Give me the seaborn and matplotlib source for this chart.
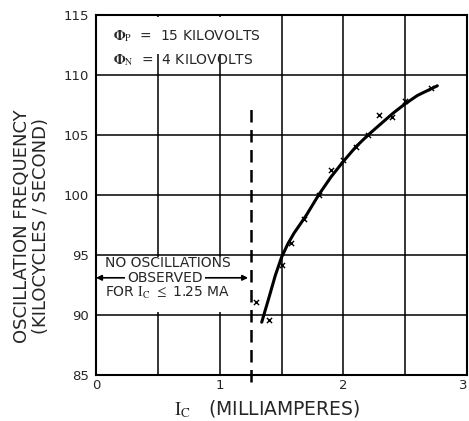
import matplotlib
matplotlib.use("Agg")
import matplotlib.pyplot as plt
import seaborn as sns
import pandas as pd

# Measured oscillation frequency versus collector current
ic_points = [1.29, 1.40, 1.50, 1.58, 1.68, 1.80, 1.90, 2.00, 2.10, 2.20, 2.29, 2.39, 2.50, 2.71]
freq_points = [91.1, 89.6, 94.2, 96.0, 98.0, 100.0, 102.1, 102.9, 104.0, 105.0, 106.7, 106.5, 107.8, 108.9]

# Hand-faired curve through the measurements
ic_curve = [1.34, 1.40, 1.45, 1.50, 1.55, 1.60, 1.70, 1.80, 1.90, 2.00, 2.10, 2.20,
            2.30, 2.40, 2.50, 2.60, 2.70, 2.76]
freq_curve = [89.4, 91.5, 93.3, 94.8, 95.9, 96.8, 98.3, 100.0, 101.5, 102.8, 104.0, 105.0,
              105.9, 106.8, 107.6, 108.3, 108.8, 109.1]

threshold_ma = 1.25
x_ticks = [0, 1, 2, 3]
y_ticks = [85, 90, 95, 100, 105, 110, 115]

sns.set_style("white")
plt.rcParams["font.family"] = ["DejaVu Sans"]
plt.rcParams["mathtext.fontset"] = "stix"

fig = plt.figure(figsize=(4.69, 4.21), dpi=100)
ax = fig.add_axes([96 / 469, 46 / 421, 371 / 469, 360 / 421])

# grid every 0.5 mA and 5 kc/s
for gx in [0.5, 1.0, 1.5, 2.0, 2.5]:
    ax.axvline(gx, color="black", lw=1.1, zorder=1)
for gy in [90, 95, 100, 105, 110]:
    ax.axhline(gy, color="black", lw=1.1, zorder=1)

# blank panels behind the annotations
ax.fill_between([0.01, 1.24], 90.25, 94.85, color="white", zorder=2, lw=0)
ax.fill_between([0.01, 1.2], 111.75, 114.8, color="white", zorder=2, lw=0)

curve_df = pd.DataFrame({"ic": ic_curve, "freq": freq_curve})
pts_df = pd.DataFrame({"ic": ic_points, "freq": freq_points})
sns.lineplot(data=curve_df, x="ic", y="freq", ax=ax, color="black", lw=2.2,
             sort=True, estimator=None, zorder=4)
sns.scatterplot(data=pts_df, x="ic", y="freq", ax=ax, marker="x", color="black",
                s=14, linewidth=1.0, zorder=5)

# threshold line
ax.plot([threshold_ma, threshold_ma], [84.4, 107.7], color="black", lw=1.8,
        dashes=(5, 3), zorder=3, clip_on=False)

ax.set_xlim(0, 3)
ax.set_ylim(85, 115)
ax.set_xticks(x_ticks)
ax.set_yticks(y_ticks)
ax.set_xticklabels([str(t) for t in x_ticks])
ax.set_yticklabels([str(t) for t in y_ticks])
ax.get_xticklabels()[-1].set_horizontalalignment("right")
ax.tick_params(axis="y", direction="out", length=4, width=1.2, labelsize=9.5, pad=1)
ax.tick_params(axis="x", direction="out", length=0, labelsize=9.5, pad=3)
ax.set_xlabel("")
ax.set_ylabel("")
for sp in ax.spines.values():
    sp.set_visible(True)
    sp.set_color("black")
    sp.set_linewidth(1.5)

# parameter block
ax.text(0.14, 113.2, r"$\mathbf{\Phi}_{\mathrm{P}}$  =  15 KILOVOLTS", fontsize=10,
        ha="left", va="center", zorder=6)
ax.text(0.14, 111.2, r"$\mathbf{\Phi}_{\mathrm{N}}$  =  4 KILOVOLTS", fontsize=10,
        ha="left", va="center", zorder=6)

# no-oscillation region note
ax.text(0.07, 94.3, "NO OSCILLATIONS", fontsize=10, ha="left", va="center", zorder=6)
ax.annotate("", xy=(0.0, 93.1), xytext=(1.23, 93.1),
            arrowprops=dict(arrowstyle="<|-|>", color="black", lw=1.2,
                            mutation_scale=8, shrinkA=0, shrinkB=0), zorder=5)
ax.text(0.555, 93.1, "OBSERVED", fontsize=10, ha="center", va="center", zorder=6,
        bbox=dict(boxstyle="square,pad=0.15", fc="white", ec="none"))
ax.text(0.07, 91.85, r"FOR $\mathrm{I_C}$ $\leq$ 1.25 MA", fontsize=10, ha="left",
        va="center", zorder=6)

fig.text(31.5 / 469, 1 - 226 / 421, "OSCILLATION FREQUENCY\n(KILOCYCLES / SECOND)",
         rotation=90, ha="center", va="center", fontsize=13, linespacing=1.1)
fig.text(267 / 469, 1 - 409 / 421, r"$\mathrm{I_C}$   (MILLIAMPERES)", ha="center",
         va="center", fontsize=13.5)

fig.savefig("out.png", dpi=100)
